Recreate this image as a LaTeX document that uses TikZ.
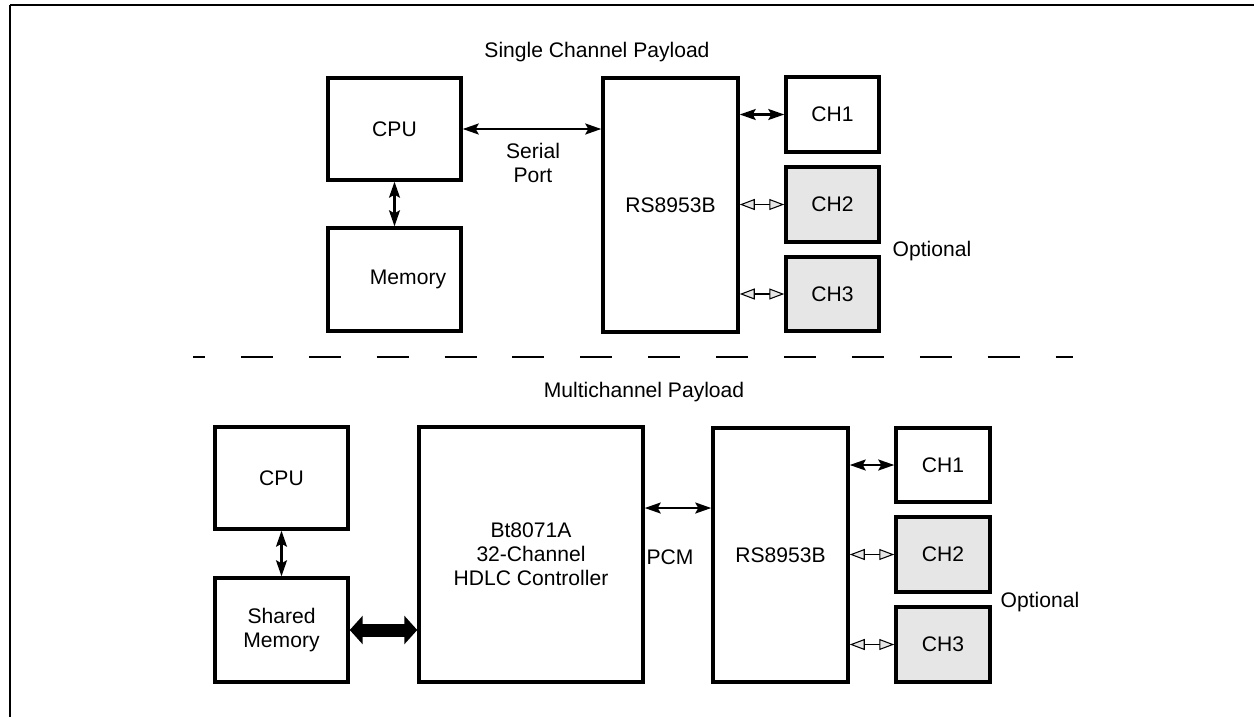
\documentclass[tikz,border=0pt]{standalone}
\usepackage{fontspec}
\setmainfont{Liberation Sans}
\usetikzlibrary{arrows.meta,positioning}
\definecolor{optgray}{RGB}{230,230,230}

\begin{document}
\begin{tikzpicture}[x=0.02cm, y=-0.02cm, font=\fontsize{12}{13.6}\selectfont,
    box/.style={rectangle, draw, line width=2pt, inner sep=0pt, align=center},
    optbox/.style={box, fill=optgray},
    link/.style={line width=1.2pt, {Stealth[length=0.32cm, width=0.22cm, inset=0.06cm]}-{Stealth[length=0.32cm, width=0.22cm, inset=0.06cm]}},
    optlink/.style={line width=0.6pt, {Triangle[length=0.3cm, width=0.22cm, fill=optgray]}-{Triangle[length=0.3cm, width=0.22cm, fill=optgray]}},
    bus/.style={line width=0.26cm, {Triangle[length=0.26cm, width=0.56cm]}-{Triangle[length=0.26cm, width=0.56cm]}}]
    \useasboundingbox (0,0) rectangle (1254,717);

    % frame and divider
    \draw [line width=1.1pt] (10,5) -- (1254,5);
    \draw [line width=0.6pt] (10,5) -- (10,717);
    \draw [line width=0.9pt, dash pattern=on 0.64cm off 0.718cm, dash phase=0.4cm] (193,357) -- (1073,357);

    % single channel payload
    \node (titleA) at (597,52) {Single Channel Payload};
    \node (cpuA) [box, minimum width=2.66cm, minimum height=2.04cm] at (394.5,129) {CPU};
    \node (memA) [box, minimum width=2.66cm, minimum height=2.06cm, label={[xshift=0.27cm]center:Memory}] at (394.5,279.5) {};
    \node (rsA) [box, minimum width=2.7cm, minimum height=5.08cm] at (670.5,205) {RS8953B};
    \node (ch1A) [box, minimum width=1.86cm, minimum height=1.5cm] at (832.5,114.5) {CH1};
    \node (ch2A) [optbox, minimum width=1.86cm, minimum height=1.5cm] at (832.5,204.5) {CH2};
    \node (ch3A) [optbox, minimum width=1.86cm, minimum height=1.48cm] at (832.5,294) {CH3};
    \node (serial) [align=center] at (533,163) {Serial\\Port};
    \node (optA) at (932,251) {Optional};

    % Arrows
    \draw [link] (cpuA.east) -- (cpuA.east -| rsA.west);
    \draw [link] (cpuA) -- (memA);
    \draw [link] (ch1A.west -| rsA.east) -- (ch1A.west);
    \draw [optlink] (ch2A.west -| rsA.east) -- (ch2A.west);
    \draw [optlink] (ch3A.west -| rsA.east) -- (ch3A.west);

    % multichannel payload
    \node (titleB) at (644,392) {Multichannel Payload};
    \node (cpuB) [box, minimum width=2.66cm, minimum height=2.04cm] at (281.5,478) {CPU};
    \node (memB) [box, minimum width=2.66cm, minimum height=2.08cm] at (281.5,630) {Shared\\Memory};
    \node (btB) [box, minimum width=4.48cm, minimum height=5.1cm] at (531,554.5) {Bt8071A\\32-Channel\\HDLC Controller};
    \node (rsB) [box, minimum width=2.7cm, minimum height=5.08cm] at (780.5,555) {RS8953B};
    \node (ch1B) [box, minimum width=1.88cm, minimum height=1.48cm] at (943,465) {CH1};
    \node (ch2B) [optbox, minimum width=1.88cm, minimum height=1.5cm] at (943,554.5) {CH2};
    \node (ch3B) [optbox, minimum width=1.88cm, minimum height=1.5cm] at (943,644.5) {CH3};
    \node (pcm) at (670,557) {PCM};
    \node (optB) at (1040,602) {Optional};

    % Arrows
    \draw [link] (cpuB) -- (memB);
    \draw [bus] (memB.east) -- (memB.east -| btB.west);
    \draw [link] ([yshift=0.93cm]btB.east) -- ([yshift=0.93cm]btB.east -| rsB.west);
    \draw [link] (ch1B.west -| rsB.east) -- (ch1B.west);
    \draw [optlink] (ch2B.west -| rsB.east) -- (ch2B.west);
    \draw [optlink] (ch3B.west -| rsB.east) -- (ch3B.west);
\end{tikzpicture}
\end{document}
